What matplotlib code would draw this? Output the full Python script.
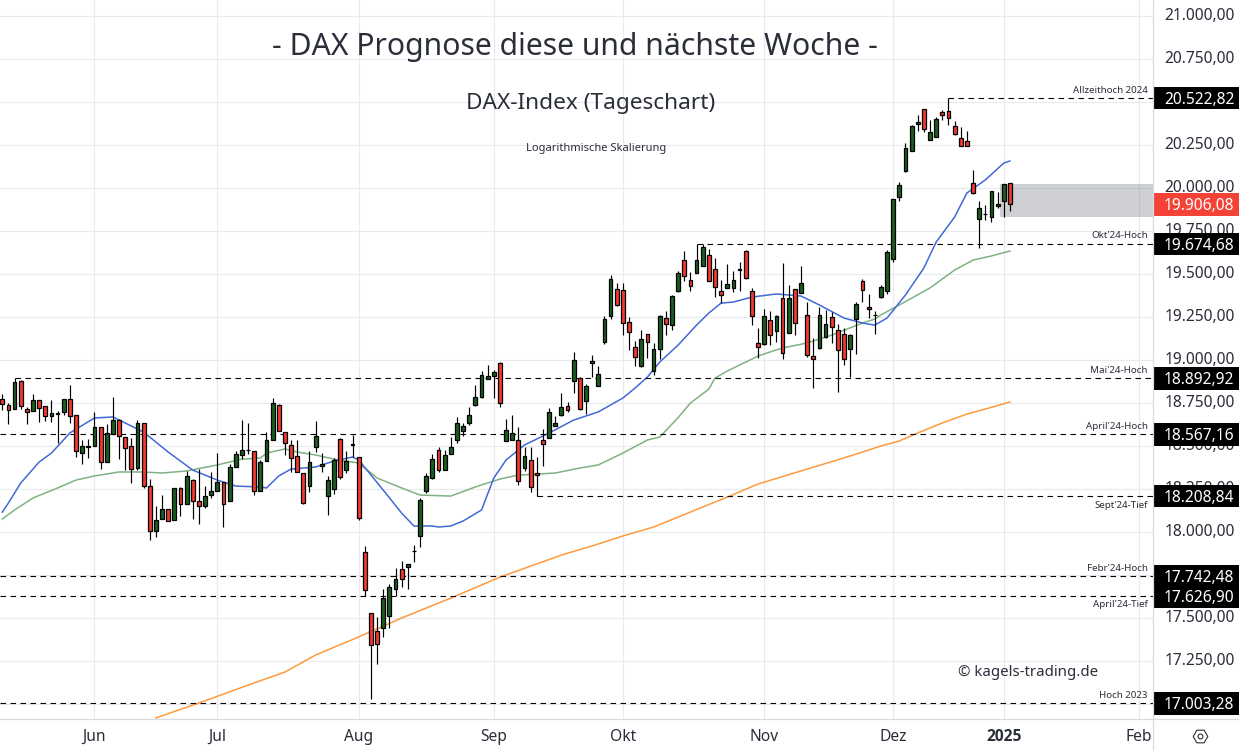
import matplotlib
matplotlib.use('Agg')
import matplotlib.pyplot as plt
from matplotlib.lines import Line2D
from matplotlib.patches import Rectangle
from matplotlib.transforms import blended_transform_factory, ScaledTranslation
import numpy as np

plt.rcParams['font.family'] = ['Noto Sans', 'DejaVu Sans']

# daily candles
opens = [18771, 18736, 18717, 18876, 18713, 18705, 18766, 18731, 18676, 18689,
         18700, 18771, 18678, 18461, 18497, 18502, 18609, 18405, 18572, 18649,
         18550, 18498, 18370, 18632, 18265, 18008, 18074, 18132, 18068, 18254,
         18165, 18300, 18178, 18153, 18213, 18236, 18289, 18178, 18376, 18450,
         18474, 18469, 18236, 18411, 18533, 18736, 18583, 18508, 18440, 18341,
         18269, 18496, 18384, 18207, 18252, 18539, 18362, 18508, 18434, 17882,
         17527, 17422, 17440, 17514, 17671, 17783, 17798, 17887, 17975, 18236,
         18312, 18475, 18358, 18455, 18537, 18589, 18636, 18740, 18785, 18888,
         18909, 18981, 18531, 18537, 18533, 18374, 18417, 18341, 18533, 18545,
         18618, 18682, 18731, 18876, 18893, 18764, 18981, 18847, 19107, 19254,
         19411, 19405, 19219, 19074, 18967, 19149, 18934, 19062, 19242, 19205,
         19403, 19579, 19463, 19508, 19545, 19609, 19527, 19399, 19417, 19417,
         19526, 19632, 19399, 19097, 19091, 19231, 19167, 19359, 19155, 19411,
         19388, 19260, 19021, 19068, 19132, 19248, 19172, 19149, 19062, 19236,
         19457, 19306, 19259, 19364, 19399, 19585, 19946, 20099, 20213, 20370,
         20457, 20277, 20295, 20440, 20446, 20358, 20289, 20271, 20027, 19818,
         19846, 19829, 19893, 19922, 20027]
closes = [18742, 18711, 18870, 18734, 18700, 18766, 18723, 18676, 18690, 18691,
          18771, 18676, 18473, 18498, 18499, 18609, 18405, 18574, 18649, 18556,
          18490, 18368, 18632, 18265, 18004, 18068, 18132, 18066, 18254, 18161,
          18324, 18178, 18153, 18207, 18236, 18289, 18161, 18376, 18452, 18475,
          18476, 18236, 18405, 18533, 18748, 18589, 18515, 18432, 18351, 18171,
          18405, 18556, 18393, 18300, 18419, 18318, 18411, 18510, 18079, 17661,
          17341, 17351, 17614, 17678, 17725, 17725, 17812, 17889, 18184, 18324,
          18422, 18358, 18446, 18494, 18632, 18614, 18678, 18783, 18911, 18905,
          18928, 18748, 18591, 18574, 18298, 18440, 18264, 18329, 18514, 18696,
          18632, 18727, 18707, 19000, 18717, 18847, 18992, 18917, 19236, 19469,
          19322, 19213, 19161, 19016, 19120, 19103, 19062, 19254, 19207, 19370,
          19504, 19486, 19428, 19579, 19655, 19457, 19422, 19376, 19440, 19463,
          19528, 19475, 19254, 19074, 19254, 19143, 19254, 19039, 19359, 19213,
          19446, 19031, 19004, 19260, 19207, 19190, 19056, 19004, 19143, 19324,
          19405, 19295, 19261, 19422, 19626, 19934, 20015, 20231, 20359, 20382,
          20341, 20324, 20399, 20422, 20405, 20312, 20242, 20242, 19969, 19882,
          19848, 19981, 19905, 20021, 19905]
highs = [18802, 18748, 18893, 18884, 18729, 18802, 18766, 18731, 18767, 18705,
         18771, 18855, 18678, 18535, 18541, 18698, 18609, 18628, 18785, 18655,
         18550, 18545, 18649, 18632, 18306, 18151, 18215, 18132, 18254, 18260,
         18355, 18306, 18366, 18267, 18351, 18457, 18289, 18395, 18473, 18649,
         18632, 18469, 18419, 18580, 18777, 18742, 18583, 18533, 18533, 18341,
         18471, 18643, 18457, 18324, 18428, 18545, 18471, 18562, 18434, 17917,
         17527, 17504, 17667, 17696, 17789, 17829, 17812, 17922, 18196, 18341,
         18454, 18494, 18475, 18552, 18667, 18636, 18727, 18855, 18936, 18971,
         18942, 18987, 18657, 18680, 18611, 18496, 18496, 18436, 18599, 18719,
         18674, 18808, 18756, 19047, 18899, 18859, 19029, 18963, 19254, 19492,
         19446, 19446, 19250, 19111, 19173, 19149, 19097, 19260, 19283, 19376,
         19516, 19632, 19510, 19672, 19672, 19643, 19591, 19463, 19556, 19516,
         19568, 19640, 19417, 19186, 19295, 19285, 19260, 19564, 19434, 19411,
         19546, 19339, 19128, 19306, 19291, 19277, 19207, 19184, 19149, 19335,
         19469, 19382, 19283, 19434, 19638, 19934, 20033, 20260, 20364, 20422,
         20457, 20393, 20411, 20453, 20522, 20388, 20353, 20329, 20103, 19922,
         19899, 19981, 19975, 20021, 20027]
lows = [18709, 18628, 18717, 18717, 18628, 18705, 18640, 18645, 18640, 18519,
        18680, 18634, 18438, 18395, 18430, 18502, 18366, 18405, 18572, 18426,
        18360, 18287, 18360, 18258, 17953, 17973, 18074, 18062, 18068, 18093,
        18165, 18078, 18047, 18141, 18198, 18236, 18031, 18178, 18376, 18422,
        18452, 18217, 18236, 18411, 18533, 18585, 18448, 18351, 18347, 18165,
        18235, 18467, 18351, 18099, 18223, 18310, 18345, 18434, 18072, 17626,
        17029, 17234, 17390, 17440, 17626, 17680, 17669, 17827, 17915, 18227,
        18306, 18351, 18358, 18455, 18517, 18560, 18624, 18735, 18777, 18888,
        18779, 18727, 18531, 18537, 18275, 18357, 18235, 18208, 18386, 18545,
        18618, 18676, 18700, 18810, 18709, 18688, 18903, 18847, 19091, 19240,
        19316, 19147, 19058, 18967, 18957, 19014, 18915, 19008, 19145, 19174,
        19397, 19461, 19403, 19504, 19545, 19457, 19368, 19329, 19417, 19397,
        19403, 19469, 19205, 19010, 19085, 19085, 19107, 19006, 19155, 19145,
        19388, 19019, 18839, 19062, 19126, 19097, 18816, 18969, 18901, 19037,
        19335, 19242, 19149, 19358, 19382, 19572, 19926, 20091, 20213, 20333,
        20324, 20277, 20295, 20393, 20366, 20306, 20242, 20242, 19963, 19653,
        19812, 19804, 19886, 19833, 19868]

# moving averages, sampled along the curves
blue_idx = [0, 1, 3, 6, 8, 11, 15, 18, 20, 23, 27, 31, 35, 38, 42, 43, 45, 47, 51, 54, 57, 58,
            62, 65, 67, 70, 71, 73, 75, 78, 80, 82, 85, 89, 93, 97, 101, 103, 105, 107, 110,
            113, 115, 117, 119, 122, 126, 130, 133, 137, 140, 142, 144, 147, 150, 152, 155,
            157, 160, 163, 164]
blue_val = [18116, 18169, 18285, 18407, 18459, 18576, 18663, 18669, 18634, 18581, 18465, 18360,
            18302, 18267, 18262, 18256, 18326, 18366, 18378, 18413, 18436, 18419, 18244, 18110,
            18035, 18035, 18029, 18035, 18064, 18128, 18314, 18419, 18506, 18576, 18651, 18698,
            18779, 18837, 18901, 18988, 19087, 19203, 19273, 19331, 19337, 19366, 19384, 19372,
            19320, 19244, 19215, 19203, 19244, 19378, 19535, 19686, 19831, 19971, 20047, 20145,
            20157]
green_idx = [0, 2, 5, 9, 12, 15, 19, 23, 26, 30, 35, 39, 42, 43, 46, 48, 51, 54, 58, 61, 65, 68,
             73, 77, 81, 84, 90, 94, 97, 101, 105, 107, 110, 112, 115, 116, 118, 121, 123,
             125, 127, 131, 135, 140, 142, 143, 146, 151, 155, 158, 161, 164]
green_val = [18076, 18128, 18198, 18256, 18302, 18326, 18349, 18349, 18343, 18355, 18390, 18424,
             18430, 18459, 18483, 18465, 18448, 18424, 18401, 18314, 18256, 18215, 18209, 18262,
             18308, 18331, 18343, 18372, 18390, 18459, 18535, 18552, 18665, 18750, 18831,
             18895, 18936, 18988, 19023, 19047, 19070, 19099, 19145, 19215, 19238, 19262, 19320,
             19419, 19523, 19581, 19605, 19634]
orange_idx = [25, 32, 40, 46, 51, 58, 65, 73, 78, 81, 86, 91, 96, 101, 106, 112, 118, 123, 138,
              143, 146, 149, 153, 157, 160, 164]
orange_val = [16919, 17006, 17110, 17186, 17285, 17390, 17500, 17616, 17692, 17738, 17802, 17866,
              17919, 17977, 18029, 18116, 18203, 18279, 18442, 18500, 18529, 18576, 18634, 18686,
              18715, 18756]

# horizontal levels
level_vals = [20522.82, 19674.68, 18892.92, 18567.16, 18208.84, 17742.48, 17626.90, 17003.28]
level_tags = ['20.522,82', '19.674,68', '18.892,92', '18.567,16', '18.208,84', '17.742,48',
              '17.626,90', '17.003,28']
level_names = ['Allzeithoch 2024', "Okt'24-Hoch", "Mai'24-Hoch", "April'24-Hoch", "Sept'24-Tief",
               "Febr'24-Hoch", "April'24-Tief", 'Hoch 2023']
level_start = [154, 113, 2, -1, 87, -1, -1, -1]
level_offset = [8, 8, 8, 8, -9, 8, -8, 8]

last_price = 19906.08
last_tag = '19.906,08'
zone_start = 163
zone_low = 19833
zone_high = 20023

price_ticks = np.arange(17000, 21001, 250)
month_idx = [15, 35, 58, 80, 101, 124, 145, 163, 185]
month_names = ['Jun', 'Jul', 'Aug', 'Sep', 'Okt', 'Nov', 'Dez', '2025', 'Feb']

UP = '#1B5E20'
DOWN = '#F5392E'
GRID = '#E8EAEF'
TEXT = '#2A2E39'
BORDER = '#D9DBE2'

W, H = 1239, 751
fig = plt.figure(figsize=(W / 100, H / 100), dpi=100)
ax = fig.add_axes([0, (H - 719) / H, 1153 / W, 719 / H])
ax.set_xlim(-0.374, 187.29)
ax.set_ylim(16913, 21093)
for s in ax.spines.values():
    s.set_visible(False)

ax.set_xticks(month_idx, month_names)
ax.set_yticks(price_ticks, [f'{v:,.2f}'.replace(',', 'X').replace('.', ',').replace('X', '.') for v in price_ticks])
ax.yaxis.tick_right()
ax.tick_params(axis='both', length=0, labelsize=11.2, labelcolor=TEXT)
ax.tick_params(axis='y', pad=8)
ax.tick_params(axis='x', pad=7)
ax.grid(True, color=GRID, lw=0.8)
ax.set_axisbelow(True)
for lab in ax.get_yticklabels():
    lab.set_transform(lab.get_transform() + ScaledTranslation(0, 1.2 / 72, fig.dpi_scale_trans))
ax.get_xticklabels()[7].set_fontweight('bold')
ax.get_xticklabels()[7].set_family(['Open Sans', 'DejaVu Sans'])

blend = blended_transform_factory(ax.transAxes, ax.transData)

# grey zone around the last candles
ax.add_patch(Rectangle((zone_start - 0.55, zone_low), 187.29 - zone_start + 0.55, zone_high - zone_low,
                       facecolor='#787B86', alpha=0.36, lw=0, zorder=2))

ax.plot(orange_idx, orange_val, color='#FF9A3C', lw=1.1, zorder=2.5)
ax.plot(green_idx, green_val, color='#7FB283', lw=1.1, zorder=2.5)
ax.plot(blue_idx, blue_val, color='#4169D8', lw=1.1, zorder=2.5)

# levels with their names and price tags
for val, tag, name, start, off in zip(level_vals, level_tags, level_names, level_start, level_offset):
    x0 = start if start >= 0 else -0.374
    ax.plot([x0, 187.29], [val, val], color='black', lw=0.8, ls=(0, (5, 4)), zorder=3)
    ax.annotate(name, xy=(186.4, val), xytext=(0, off), textcoords='offset pixels', ha='right',
                va='center', fontsize=7.0, color=TEXT, zorder=3)
    ax.add_patch(Rectangle((1154 / 1153, val - 66), 85 / 1153, 132, transform=blend, facecolor='black',
                           lw=0, clip_on=False, zorder=6))
    ax.text(1199 / 1153, val, tag, transform=blend, color='white', fontsize=11.2, fontweight='medium',
            ha='center', va='center_baseline', zorder=7)

ax.add_patch(Rectangle((1154 / 1153, last_price - 66), 85 / 1153, 132, transform=blend, facecolor='#F44336',
                       lw=0, clip_on=False, zorder=6))
ax.text(1199 / 1153, last_price, last_tag, transform=blend, color='white', fontsize=11.2, fontweight='medium',
        ha='center', va='center_baseline', zorder=7)

# candles
idx = np.arange(len(opens))
o, h, l, c = map(np.array, (opens, highs, lows, closes))
ax.vlines(idx, l, h, color='black', lw=0.85, zorder=4)
colors = [UP if cc >= oo else DOWN for oo, cc in zip(o, c)]
ax.bar(idx, np.abs(c - o), bottom=np.minimum(o, c), width=0.62, color=colors, edgecolor='black', lw=0.9, zorder=4.5)

# titles
fig.text(575 / W, 1 - 47 / H, '- DAX Prognose diese und nächste Woche -', ha='center', va='center',
         fontsize=21.7, color=TEXT)
fig.text(591 / W, 1 - 103 / H, 'DAX-Index (Tageschart)', ha='center', va='center', fontsize=16.3, color=TEXT)
fig.text(596 / W, 1 - 148.5 / H, 'Logarithmische Skalierung', ha='center', va='center', fontsize=8.0, color=TEXT)
fig.text(1028 / W, 1 - 672 / H, '© kagels-trading.de', ha='center', va='center', fontsize=10.8, color=TEXT)

# axis borders and the little settings icon
fig.add_artist(Line2D([1153 / W, 1153 / W], [0, 1], color=BORDER, lw=0.9))
fig.add_artist(Line2D([0, 1], [1 - 719 / H, 1 - 719 / H], color=BORDER, lw=0.9))
fig.add_artist(Line2D([1200 / W], [1 - 735.5 / H], marker='H', ms=10.5, mfc='none', mec=TEXT, mew=0.8))
fig.add_artist(Line2D([1200 / W], [1 - 735.5 / H], marker='o', ms=3.5, mfc='none', mec=TEXT, mew=0.8))

fig.savefig('out.png', dpi=100)
